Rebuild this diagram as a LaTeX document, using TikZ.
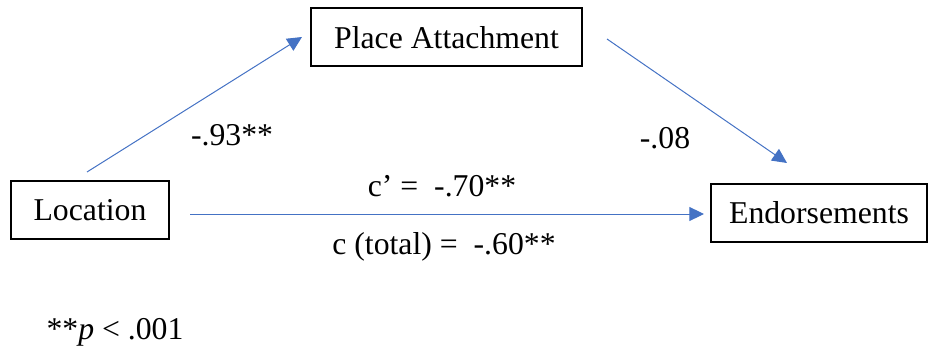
\documentclass[tikz,border=0pt]{standalone}
\usepackage{fontspec}
\setmainfont{Liberation Serif}
\usetikzlibrary{arrows.meta}
\definecolor{arrowblue}{HTML}{4472C4}
\begin{document}
\begin{tikzpicture}[x=0.75pt,y=-0.75pt,
  every node/.style={font=\fontsize{23.8}{28}\selectfont, inner sep=0pt},
  varbox/.style={draw=black, line width=1.5pt, minimum height=43.5pt},
  conn/.style={draw=arrowblue, line width=0.75pt, -{Triangle[length=11pt,width=10.5pt]}},
  lbl/.style={anchor=base}]
\useasboundingbox (0,0) rectangle (928,349);
\node[varbox, minimum width=119pt] (loc) at (90,210) {Location};
\node[varbox, minimum width=203pt] (pa) at (446.5,37.5) {Place Attachment};
\node[varbox, minimum width=162pt] (end) at (819,213) {Endorsements};
\coordinate (a1s) at (87,172);
\coordinate (a1e) at (302,37);
\coordinate (a2s) at (607,39);
\coordinate (a2e) at (787,163);
\coordinate (a3s) at (190,214);
\coordinate (a3e) at (704,214);
\draw[conn] (a1s) -- (a1e);
\draw[conn] (a2s) -- (a2e);
\draw[conn] (a3s) -- (a3e);
\node[lbl] (l1) at (232,146) {-.93**};
\node[lbl] (l2) at (665,149) {-.08};
\node[lbl] (l3) at (442,196) {c’ =\ \ -.70**};
\node[lbl] (l4) at (444,254) {c (total) =\ \ -.60**};
\node[lbl] (l5) at (115,339) {**\textit{p} < .001};
\end{tikzpicture}
\end{document}
